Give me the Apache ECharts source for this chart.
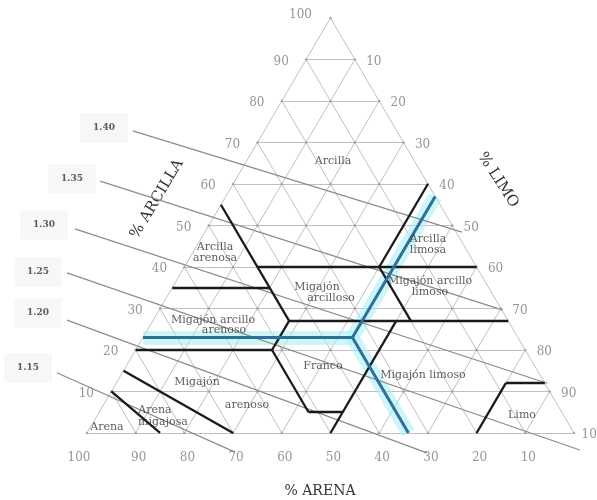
<!DOCTYPE html>
<html><head><meta charset="utf-8">
<script src="https://cdn.jsdelivr.net/npm/echarts@6/dist/echarts.min.js"></script>
<style>html,body{margin:0;padding:0;background:#fff}#c{width:597px;height:500px}</style>
</head><body><div id="c"></div>
<script>
// ---- data ----
const sandTicks = [100, 90, 80, 70, 60, 50, 40, 30, 20, 10];
const clayTicks = [10, 20, 30, 40, 50, 60, 70, 80, 90, 100];
const siltTicks = [10, 20, 30, 40, 50, 60, 70, 80, 90, 100];
const gridSteps = [10, 20, 30, 40, 50, 60, 70, 80, 90];

// textural class boundaries as [sand %, clay %] end points
const boundaryFrom = [[45,55],[45,27],[65,35],[45,40],[45,27],[80,20],[52,20],[52,5],[50,0],[0,60],[20,40],[20,0],[8,12],[85,15],[90,10]];
const boundaryTo   = [[45,27],[52,20],[45,35],[0,40],[0,27],[52,20],[52,5],[45,5],[23,27],[20,40],[20,27],[8,12],[0,12],[70,0],[85,0]];

const classNames = ['Arcilla','Arcilla\narenosa','Arcilla\nlimosa','Migajón','arcilloso','Migajón arcillo\nlimoso',
  'Migajón arcillo','arenoso','Franco','Migajón limoso','Migajón','arenoso','Arena','migajosa','Arena','Limo'];

// sample point (sand %, clay %)
const sampleSand = 34, sampleClay = 23;

// bulk density lines (x = silt + clay/2, y = clay)
const densityLabels = ['1.40','1.35','1.30','1.25','1.20','1.15'];
const densityStart = [[9.4,72.8],[2.7,60.7],[-2.5,49.2],[-4.1,38.6],[-4.1,27.2],[-6.2,14.5]];
const densityEnd   = [[77.0,48.4],[85.4,29.6],[94.5,12.0],[101.2,-4.1],[69.8,-4.8],[30.4,-4.6]];

// ---- layout helpers ----
const T = (sand, clay) => [100 - sand - clay / 2, clay];
const P = (px, py) => [(px - 87) / 4.87, (433 - py) / 4.15];
const classPos = [[333,161],[215,253],[428,245],[317,287],[331,298],[430,287],
  [213,320],[224,330],[323,366],[423,375],[197,382],[247,405],[155,410],[163,422],[107,427],[522,415]];
const densityPos = [[104,128],[72,179],[44,225],[38,272],[38,313],[28,368]];

const serif = 'DejaVu Serif';

// grid
const gridLines = [];
gridSteps.forEach(v => {
  gridLines.push({coords: [T(100 - v, v), T(0, v)]});
  gridLines.push({coords: [T(v, 0), T(v, 100 - v)]});
  gridLines.push({coords: [T(100 - v, 0), T(0, 100 - v)]});
});
gridLines.push({coords: [T(100,0), T(0,0)]}, {coords: [T(0,0), T(0,100)]}, {coords: [T(0,100), T(100,0)]});
const dots = [];
for (let c = 0; c <= 100; c += 10) for (let s = 0; s + c <= 100; s += 10) dots.push(T(s, c));

const boundaries = boundaryFrom.map((a, i) => ({coords: [T(a[0], a[1]), T(boundaryTo[i][0], boundaryTo[i][1])]}));
const sampleSilt = 100 - sampleSand - sampleClay;
const sampleLines = [
  {coords: [T(sampleSand, sampleClay), T(100 - sampleClay, sampleClay)]},
  {coords: [T(sampleSand, sampleClay), T(0, 100 - sampleSilt)]},
  {coords: [T(sampleSand, sampleClay), T(sampleSand, 0)]}
];
const densityLines = densityStart.map((a, i) => ({coords: [a, densityEnd[i]]}));

const tickData = [];
sandTicks.forEach(s => tickData.push({value: T(s, 0), name: String(s), label: {offset: s === 100 ? [-8, 25] : [3, 25]}}));
clayTicks.forEach(c => tickData.push({value: T(100 - c, c), name: String(c), label: {offset: c === 100 ? [-30, -3] : [-25, 2]}}));
siltTicks.forEach(t => tickData.push({value: T(0, 100 - t), name: String(t), label: {offset: [19, 2]}}));

const classData = classNames.map((n, i) => ({value: P(classPos[i][0], classPos[i][1]), name: n}));
const densityData = densityLabels.map((n, i) => ({value: P(densityPos[i][0], densityPos[i][1]), name: n}));

const chart = echarts.init(document.getElementById('c'), null, {renderer: 'canvas'});
chart.setOption({
  backgroundColor: '#fff',
  animation: false,
  grid: {left: 0, right: 0, top: 0, bottom: 0},
  xAxis: {type: 'value', min: -17.864, max: 104.723, show: false},
  yAxis: {type: 'value', min: -16.145, max: 104.337, show: false},
  graphic: [
    {type: 'text', x: 157, y: 199, rotation: 59 * Math.PI / 180,
     style: {text: '% ARCILLA', font: '15px "DejaVu Serif"', fill: '#333', textAlign: 'center', textVerticalAlign: 'middle'}},
    {type: 'text', x: 498, y: 180, rotation: -57 * Math.PI / 180,
     style: {text: '% LIMO', font: '15px "DejaVu Serif"', fill: '#333', textAlign: 'center', textVerticalAlign: 'middle'}},
    {type: 'text', x: 320, y: 491,
     style: {text: '% ARENA', font: '14px "DejaVu Serif"', fill: '#333', textAlign: 'center', textVerticalAlign: 'middle'}}
  ],
  series: [
    {type: 'lines', coordinateSystem: 'cartesian2d', silent: true, z: 1,
     lineStyle: {color: '#c0c0c0', width: 1, opacity: 1}, data: gridLines},
    {type: 'scatter', z: 2, silent: true, symbolSize: 2.5, itemStyle: {color: '#9a9a9a'}, data: dots},
    {type: 'lines', coordinateSystem: 'cartesian2d', silent: true, z: 3,
     lineStyle: {color: 'rgba(165,238,242,0.55)', width: 14, opacity: 1}, data: sampleLines},
    {type: 'lines', coordinateSystem: 'cartesian2d', silent: true, z: 4, clip: false,
     lineStyle: {color: '#8c8c8c', width: 1.2, opacity: 1}, data: densityLines},
    {type: 'lines', coordinateSystem: 'cartesian2d', silent: true, z: 5,
     lineStyle: {color: '#1a1a1a', width: 2.3, opacity: 1}, data: boundaries},
    {type: 'lines', coordinateSystem: 'cartesian2d', silent: true, z: 6,
     lineStyle: {color: '#2b6f9c', width: 3, opacity: 1}, data: sampleLines},
    {type: 'scatter', z: 7, silent: true, symbolSize: 1, itemStyle: {color: 'transparent'},
     label: {show: true, position: 'inside', formatter: '{b}', fontFamily: serif, fontSize: 12, color: '#7a7a7a'},
     data: tickData},
    {type: 'scatter', z: 8, silent: true, symbolSize: 1, itemStyle: {color: 'transparent'},
     label: {show: true, position: 'inside', formatter: '{b}', fontFamily: serif, fontSize: 11, lineHeight: 11, color: '#333', align: 'center'},
     data: classData},
    {type: 'scatter', z: 8, silent: true, symbolSize: 1, itemStyle: {color: 'transparent'},
     label: {show: true, position: 'inside', formatter: '{b}', fontFamily: serif, fontSize: 9, fontWeight: 'bold', color: '#333',
       backgroundColor: '#f5f5f5', padding: [10, 13]},
     data: densityData}
  ]
});
</script>
</body></html>
